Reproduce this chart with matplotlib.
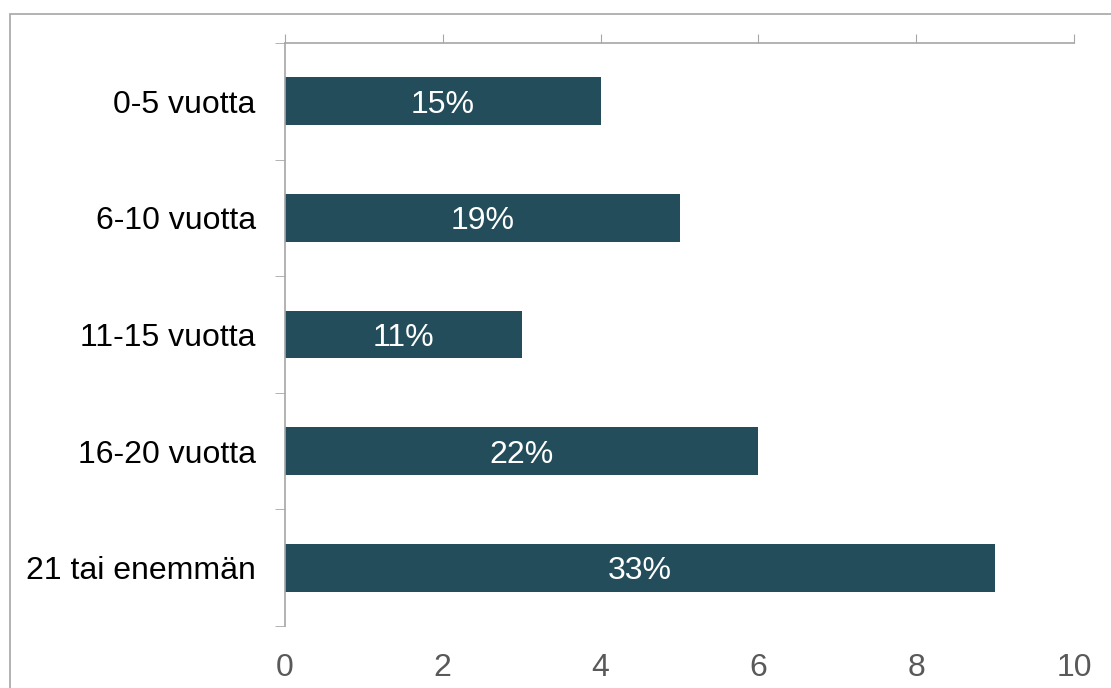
import matplotlib.pyplot as plt
from matplotlib.patches import Rectangle
import numpy as np

plt.rcParams['font.family'] = ['Liberation Sans', 'DejaVu Sans']

categories = ['0-5 vuotta', '6-10 vuotta', '11-15 vuotta', '16-20 vuotta', '21 tai enemmän']
values = [4, 5, 3, 6, 9]
percents = ['15%', '19%', '11%', '22%', '33%']

fig = plt.figure(figsize=(11.11, 6.88), dpi=100)
ax = fig.add_axes([285/1111, 1 - 626/688, (1074 - 285)/1111, (626 - 43)/688])

# outer frame around the chart area (runs off the right/bottom edge)
fig.patches.append(Rectangle((10/1111, -0.1), 1.2, 1 - 14/688 + 0.1, transform=fig.transFigure,
                             fill=False, edgecolor='#a6a6a6', linewidth=1.2))

y = np.arange(len(categories))
ax.barh(y, values, height=0.41, color='#234d5a')

for yi, v, p in zip(y, values, percents):
    ax.text(v / 2, yi, p, ha='center', va='center_baseline', color='white', fontsize=23)

ax.set_xlim(0, 10)
ax.set_ylim(len(categories) - 0.5, -0.5)

ax.set_xticks(np.arange(0, 11, 2))
ax.tick_params(axis='x', top=True, bottom=False, labeltop=False, labelbottom=True,
               direction='out', length=6.5, color='#a6a6a6', labelcolor='#595959',
               labelsize=23, pad=13)

ax.set_yticks(y)
ax.set_yticklabels(categories, fontsize=23, va='center_baseline')
ax.set_yticks(np.arange(-0.5, len(categories), 1), minor=True)
ax.tick_params(axis='y', which='major', length=0, pad=21)
ax.tick_params(axis='y', which='minor', length=7, color='#a6a6a6', direction='out')

for s in ['right', 'bottom']:
    ax.spines[s].set_visible(False)
for s in ['left', 'top']:
    ax.spines[s].set_color('#a6a6a6')
    ax.spines[s].set_linewidth(1.2)

fig.savefig('out.png', dpi=100)
